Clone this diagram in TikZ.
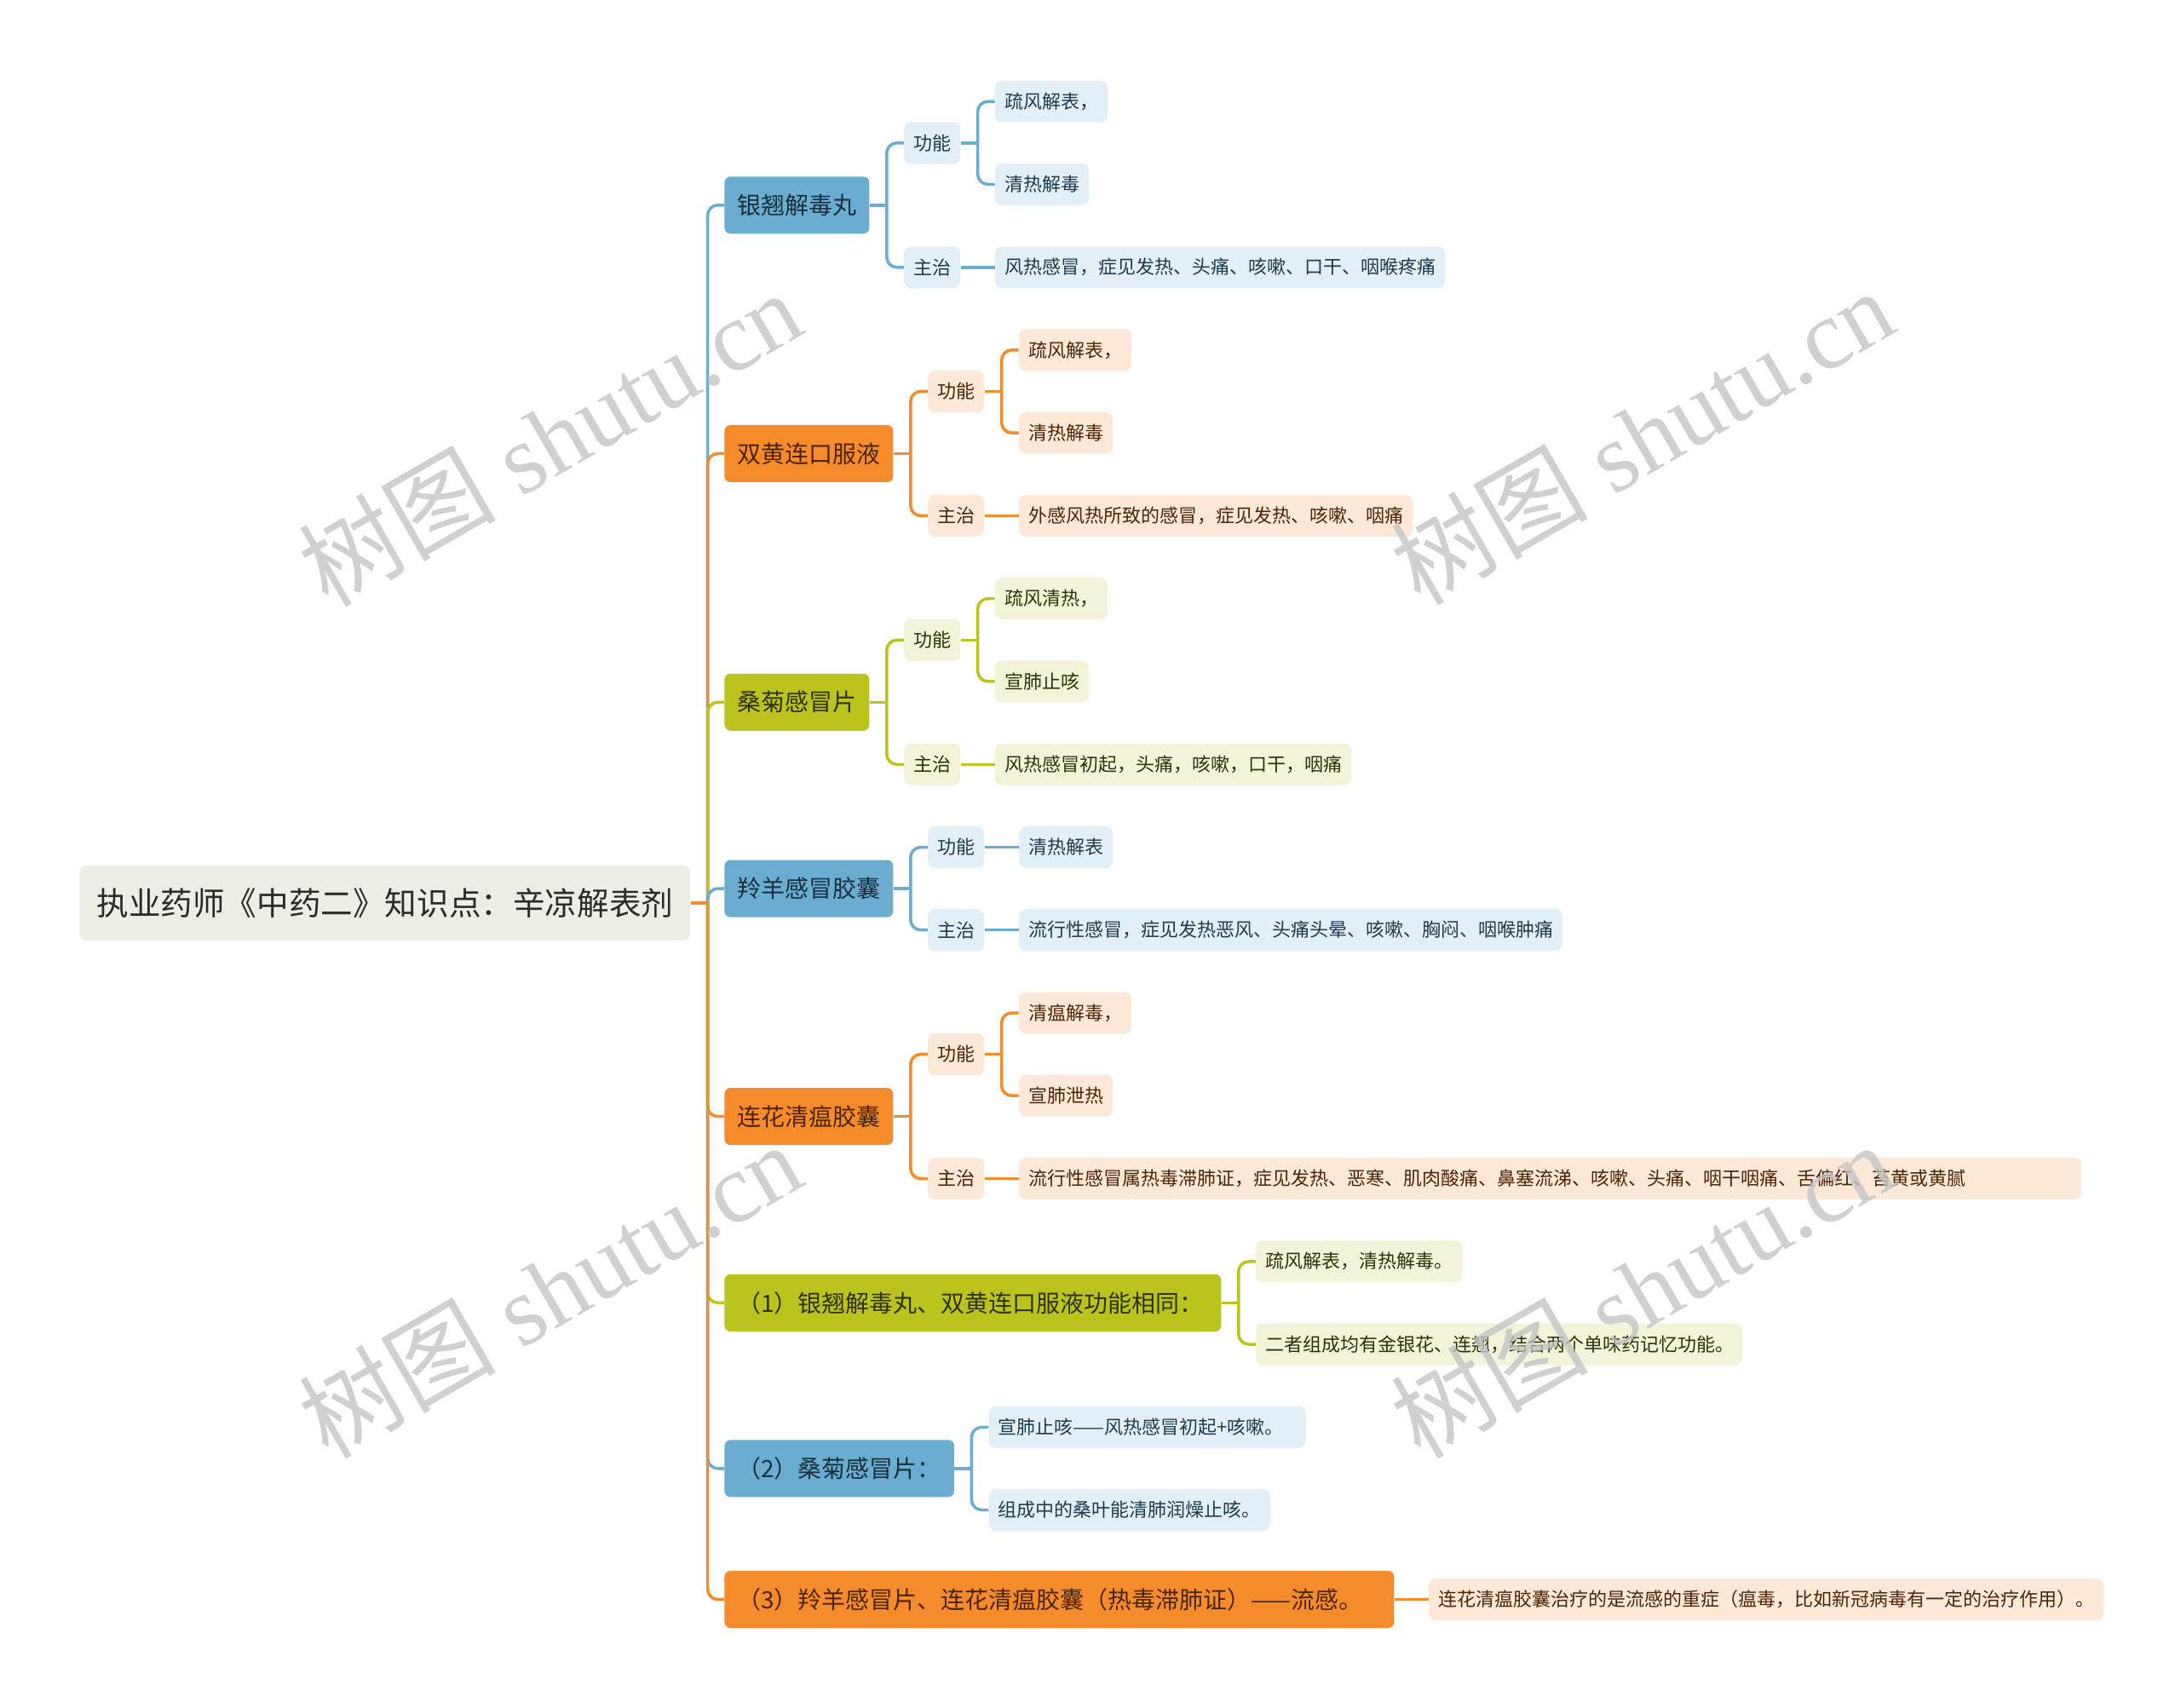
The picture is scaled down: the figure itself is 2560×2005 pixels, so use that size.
\documentclass[tikz,border=0pt]{standalone}
\usepackage{fontspec}
\usepackage{xcolor}
\usetikzlibrary{positioning, calc, backgrounds}
\newfontfamily\cjk{Noto Sans CJK SC}
\newfontfamily\wmserif{Liberation Serif}
\definecolor{bluebr}{HTML}{6AADD1}
\definecolor{orangebr}{HTML}{F68B2C}
\definecolor{olivebr}{HTML}{BCC31D}
\definecolor{rootbg}{HTML}{EEEDE5}
\definecolor{blueleaf}{HTML}{E2EFF7}
\definecolor{orangeleaf}{HTML}{FDE7D6}
\definecolor{oliveleaf}{HTML}{F2F3D9}
\definecolor{bluetxt}{HTML}{1D3B4F}
\definecolor{orangetxt}{HTML}{4A2508}
\definecolor{olivetxt}{HTML}{2E3208}
\definecolor{inkroot}{HTML}{2A2A2A}
\definecolor{wmgray}{HTML}{C4C4C4}

\begin{document}
\begin{tikzpicture}[
  x=0.5pt, y=-0.5pt,
  rootbox/.style={fill=rootbg, rounded corners=4pt, minimum height=44pt, inner xsep=10pt,
              text=inkroot, font=\cjk\fontsize{18.8}{22}\selectfont},
  lvone/.style={rounded corners=3.5pt, minimum height=33.5pt, inner xsep=7.5pt,
              font=\cjk\fontsize{14}{17}\selectfont},
  lvtwo/.style={rounded corners=4pt, minimum height=24.5pt, inner xsep=5.5pt,
              font=\cjk\fontsize{11}{13}\selectfont},
  bmain/.style={lvone, fill=bluebr, text=bluetxt!80!black},
  omain/.style={lvone, fill=orangebr, text=orangetxt},
  gmain/.style={lvone, fill=olivebr, text=olivetxt},
  bsub/.style={lvtwo, fill=blueleaf, text=bluetxt},
  osub/.style={lvtwo, fill=orangeleaf, text=orangetxt},
  gsub/.style={lvtwo, fill=oliveleaf, text=olivetxt},
  bwire/.style={draw=bluebr, line width=1.75pt, rounded corners=6pt},
  owire/.style={draw=orangebr, line width=1.75pt, rounded corners=6pt},
  gwire/.style={draw=olivebr, line width=1.75pt, rounded corners=6pt},
  wmk/.style={text=wmgray, text opacity=.8, font=\wmserif\fontsize{58}{58}\selectfont}
]
  \useasboundingbox (0,0) rectangle (2560,2005);

  % Topic
  \node[rootbox, anchor=west] (topic) at (93,1060) {执业药师《中药二》知识点：辛凉解表剂};
  \coordinate[right=10pt of topic] (rj);

  % Main branches
  \node[bmain, anchor=west] (yq)   at (850,240.8)  {银翘解毒丸};
  \node[omain, anchor=west] (shl)  at (850,532.5)  {双黄连口服液};
  \node[gmain, anchor=west] (sj)   at (850,824.3)  {桑菊感冒片};
  \node[bmain, anchor=west] (ly)   at (850,1043.1) {羚羊感冒胶囊};
  \node[omain, anchor=west] (lh)   at (850,1310.6) {连花清瘟胶囊};
  \node[gmain, anchor=west, text width=276.5pt, align=left] (tipa) at (850,1529.4)
    {（1）银翘解毒丸、双黄连口服液功能相同：};
  \node[bmain, anchor=west] (tipb) at (850,1723.9) {（2）桑菊感冒片：};
  \node[omain, anchor=west, text width=378pt, align=left] (tipc) at (850,1877.5)
    {（3）羚羊感冒片、连花清瘟胶囊（热毒滞肺证）——流感。};

  % 银翘解毒丸
  \node[bsub, right=20pt of yq, yshift=36.5pt] (yqgn) {功能};
  \node[bsub, right=20pt of yq, yshift=-36.5pt] (yqzz) {主治};
  \node[bsub, right=20pt of yqgn, yshift=24.3pt] (yqgn1) {疏风解表，};
  \node[bsub, right=20pt of yqgn, yshift=-24.3pt] (yqgn2) {清热解毒};
  \node[bsub, right=20pt of yqzz] (yqzz1) {风热感冒，症见发热、头痛、咳嗽、口干、咽喉疼痛};

  % 双黄连口服液
  \node[osub, right=20pt of shl, yshift=36.5pt] (shlgn) {功能};
  \node[osub, right=20pt of shl, yshift=-36.5pt] (shlzz) {主治};
  \node[osub, right=20pt of shlgn, yshift=24.3pt] (shlgn1) {疏风解表，};
  \node[osub, right=20pt of shlgn, yshift=-24.3pt] (shlgn2) {清热解毒};
  \node[osub, right=20pt of shlzz] (shlzz1) {外感风热所致的感冒，症见发热、咳嗽、咽痛};

  % 桑菊感冒片
  \node[gsub, right=20pt of sj, yshift=36.5pt] (sjgn) {功能};
  \node[gsub, right=20pt of sj, yshift=-36.5pt] (sjzz) {主治};
  \node[gsub, right=20pt of sjgn, yshift=24.3pt] (sjgn1) {疏风清热，};
  \node[gsub, right=20pt of sjgn, yshift=-24.3pt] (sjgn2) {宣肺止咳};
  \node[gsub, right=20pt of sjzz] (sjzz1) {风热感冒初起，头痛，咳嗽，口干，咽痛};

  % 羚羊感冒胶囊
  \node[bsub, right=20pt of ly, yshift=24.3pt] (lygn) {功能};
  \node[bsub, right=20pt of ly, yshift=-24.3pt] (lyzz) {主治};
  \node[bsub, right=20pt of lygn] (lygn1) {清热解表};
  \node[bsub, right=20pt of lyzz] (lyzz1) {流行性感冒，症见发热恶风、头痛头晕、咳嗽、胸闷、咽喉肿痛};

  % 连花清瘟胶囊
  \node[osub, right=20pt of lh, yshift=36.5pt] (lhgn) {功能};
  \node[osub, right=20pt of lh, yshift=-36.5pt] (lhzz) {主治};
  \node[osub, right=20pt of lhgn, yshift=24.3pt] (lhgn1) {清瘟解毒，};
  \node[osub, right=20pt of lhgn, yshift=-24.3pt] (lhgn2) {宣肺泄热};
  \node[osub, right=20pt of lhzz, text width=612.5pt, align=left] (lhzz1)
    {流行性感冒属热毒滞肺证，症见发热、恶寒、肌肉酸痛、鼻塞流涕、咳嗽、头痛、咽干咽痛、舌偏红、苔黄或黄腻};

  % Tips
  \node[gsub, right=20pt of tipa, yshift=24.3pt] (tipa1) {疏风解表，清热解毒。};
  \node[gsub, right=20pt of tipa, yshift=-24.3pt, text width=274.5pt, align=left] (tipa2)
    {二者组成均有金银花、连翘，结合两个单味药记忆功能。};
  \node[bsub, right=20pt of tipb, yshift=24.3pt, text width=175pt, align=left] (tipb1)
    {宣肺止咳——风热感冒初起+咳嗽。};
  \node[bsub, right=20pt of tipb, yshift=-24.3pt] (tipb2) {组成中的桑叶能清肺润燥止咳。};
  \node[osub, right=20pt of tipc] (tipc1) {连花清瘟胶囊治疗的是流感的重症（瘟毒，比如新冠病毒有一定的治疗作用）。};

  % Junctions
  \coordinate[right=10pt of yq] (yqj);
  \coordinate[right=10pt of yqgn] (yqgnj);
  \coordinate[right=10pt of shl] (shlj);
  \coordinate[right=10pt of shlgn] (shlgnj);
  \coordinate[right=10pt of sj] (sjj);
  \coordinate[right=10pt of sjgn] (sjgnj);
  \coordinate[right=10pt of ly] (lyj);
  \coordinate[right=10pt of lh] (lhj);
  \coordinate[right=10pt of lhgn] (lhgnj);
  \coordinate[right=10pt of tipa] (tipaj);
  \coordinate[right=10pt of tipb] (tipbj);

  \begin{scope}[on background layer]
    % trunk
    \draw[bwire] (rj) |- (yq.west);
    \draw[owire] (rj) |- (shl.west);
    \draw[gwire] (rj) |- (sj.west);
    \draw[bwire] (rj) |- (ly.west);
    \draw[owire] (rj) |- (lh.west);
    \draw[gwire] (rj) |- (tipa.west);
    \draw[bwire] (rj) |- (tipb.west);
    \draw[owire] (rj) |- (tipc.west);
    \draw[owire] (topic.east) -- (rj);

    % 银翘解毒丸
    \draw[bwire] (yq.east) -- (yqj);
    \draw[bwire] (yqj) |- (yqgn.west);
    \draw[bwire] (yqj) |- (yqzz.west);
    \draw[bwire] (yqgn.east) -- (yqgnj);
    \draw[bwire] (yqgnj) |- (yqgn1.west);
    \draw[bwire] (yqgnj) |- (yqgn2.west);
    \draw[bwire] (yqzz.east) -- (yqzz1.west);

    % 双黄连口服液
    \draw[owire] (shl.east) -- (shlj);
    \draw[owire] (shlj) |- (shlgn.west);
    \draw[owire] (shlj) |- (shlzz.west);
    \draw[owire] (shlgn.east) -- (shlgnj);
    \draw[owire] (shlgnj) |- (shlgn1.west);
    \draw[owire] (shlgnj) |- (shlgn2.west);
    \draw[owire] (shlzz.east) -- (shlzz1.west);

    % 桑菊感冒片
    \draw[gwire] (sj.east) -- (sjj);
    \draw[gwire] (sjj) |- (sjgn.west);
    \draw[gwire] (sjj) |- (sjzz.west);
    \draw[gwire] (sjgn.east) -- (sjgnj);
    \draw[gwire] (sjgnj) |- (sjgn1.west);
    \draw[gwire] (sjgnj) |- (sjgn2.west);
    \draw[gwire] (sjzz.east) -- (sjzz1.west);

    % 羚羊感冒胶囊
    \draw[bwire] (ly.east) -- (lyj);
    \draw[bwire] (lyj) |- (lygn.west);
    \draw[bwire] (lyj) |- (lyzz.west);
    \draw[bwire] (lygn.east) -- (lygn1.west);
    \draw[bwire] (lyzz.east) -- (lyzz1.west);

    % 连花清瘟胶囊
    \draw[owire] (lh.east) -- (lhj);
    \draw[owire] (lhj) |- (lhgn.west);
    \draw[owire] (lhj) |- (lhzz.west);
    \draw[owire] (lhgn.east) -- (lhgnj);
    \draw[owire] (lhgnj) |- (lhgn1.west);
    \draw[owire] (lhgnj) |- (lhgn2.west);
    \draw[owire] (lhzz.east) -- (lhzz1.west);

    % Tips
    \draw[gwire] (tipa.east) -- (tipaj);
    \draw[gwire] (tipaj) |- (tipa1.west);
    \draw[gwire] (tipaj) |- (tipa2.west);
    \draw[bwire] (tipb.east) -- (tipbj);
    \draw[bwire] (tipbj) |- (tipb1.west);
    \draw[bwire] (tipbj) |- (tipb2.west);
    \draw[owire] (tipc.east) -- (tipc1.west);
  \end{scope}

  % Watermarks
  \node[wmk, rotate=30] (wm1) at (645,514)  {{\cjk 树图} shutu.cn};
  \node[wmk, rotate=30] (wm2) at (1927,512) {{\cjk 树图} shutu.cn};
  \node[wmk, rotate=30] (wm3) at (645,1514) {{\cjk 树图} shutu.cn};
  \node[wmk, rotate=30] (wm4) at (1927,1514) {{\cjk 树图} shutu.cn};
\end{tikzpicture}
\end{document}
